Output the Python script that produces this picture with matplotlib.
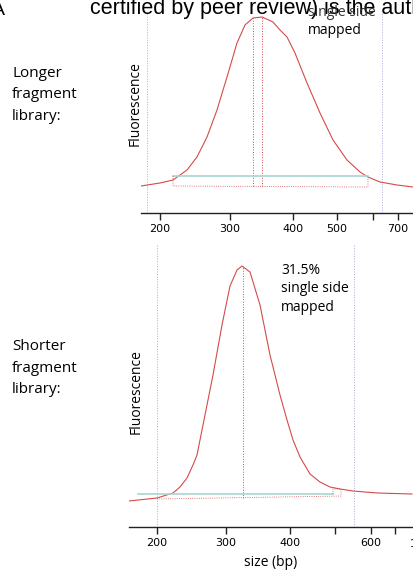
import matplotlib
matplotlib.use('Agg')
import matplotlib.pyplot as plt

# migration position (trace units) and fluorescence readings, longer library
long_pos = [141, 160, 173, 187, 197, 207, 217, 227, 237, 245, 253, 262, 273,
            280, 287, 295, 307, 320, 333, 347, 360, 368, 380, 397, 413]
long_fluor = [27, 30, 33, 43, 56, 76, 103, 136, 170, 188, 195, 196, 191,
              183, 176, 160, 130, 100, 73, 53, 41, 36, 31, 28, 26]

# shorter library
short_pos = [129, 157, 173, 180, 187, 193, 197, 203, 208, 213, 222, 230, 237,
             242, 250, 260, 270, 280, 287, 293, 300, 310, 320, 330, 340, 353,
             377, 412]
short_fluor = [26, 29, 34, 40, 49, 62, 72, 102, 127, 152, 202, 241, 257,
               261, 255, 222, 172, 132, 107, 87, 70, 53, 45, 40, 38, 36,
               34, 33]

# size ladder ticks (position -> bp label)
long_ticks = [160, 230, 293, 337, 373, 398]
long_tick_labels = ['200', '300', '400', '500', '', '700']
short_ticks = [157, 226, 290, 335, 371, 395]
short_tick_labels = ['200', '300', '400', '', '600', '']

# peak markers, smear region, lower/upper markers
long_peaks = [253, 262]
long_peak_top = [195, 196]
long_region = (173, 368)
long_region_level = 37
long_markers = [147, 382]

short_peaks = [243]
short_peak_top = [261]
short_region = (138, 333)
short_region_level = 33
short_markers = [157, 354]

RED = '#d64a4a'
CYAN = '#a9d6cf'
LAV = '#a9a9dd'
LABEL_FONT = ['Open Sans', 'DejaVu Sans']

W, H = 413, 576
fig = plt.figure(figsize=(W / 100, H / 100), dpi=100)


def px_axes(x0, y0, x1, y1):
    return fig.add_axes([x0 / W, 1 - y1 / H, (x1 - x0) / W, (y1 - y0) / H])


def style(ax, ticks, labels):
    for s in ['top', 'right', 'left']:
        ax.spines[s].set_visible(False)
    ax.spines['bottom'].set_color('#222222')
    ax.spines['bottom'].set_linewidth(1.0)
    ax.set_yticks([])
    ax.set_xticks(ticks)
    ax.set_xticklabels(labels, fontsize=8, family='DejaVu Sans')
    ax.tick_params(axis='x', length=5, width=1, pad=3, color='#222222')


# ---- longer fragment library ----
ax1 = px_axes(141, 8, 413, 213)
ax1.set_xlim(141, 413)
ax1.set_ylim(0, 205)
style(ax1, long_ticks, long_tick_labels)
for m in long_markers:
    ax1.plot([m, m], [0, 201], color=LAV, lw=0.7, ls=':')
ax1.plot(long_pos, long_fluor, color=RED, lw=0.8)
for p, t in zip(long_peaks, long_peak_top):
    ax1.plot([p, p], [27, t], color=RED, lw=0.7, ls=':')
ax1.plot(long_region, [long_region_level] * 2, color=CYAN, lw=1.2)
ax1.plot([long_region[0], long_region[0], long_region[1], long_region[1]],
         [long_region_level, 27, 26, long_region_level - 1],
         color=RED, lw=0.6, ls=':')

# ---- shorter fragment library ----
ax2 = px_axes(129, 245, 413, 527)
ax2.set_xlim(129, 413)
ax2.set_ylim(0, 282)
style(ax2, short_ticks, short_tick_labels)
for m in short_markers:
    ax2.plot([m, m], [0, 282], color=LAV, lw=0.7, ls=':')
ax2.plot(short_pos, short_fluor, color=RED, lw=0.8)
for p, t in zip(short_peaks, short_peak_top):
    ax2.plot([p, p], [29, t], color=RED, lw=0.7, ls=':')
ax2.plot(short_region, [short_region_level] * 2, color=CYAN, lw=1.2)
ax2.plot([157, 341, 341, 333, 333], [28, 31, 38, 38, 33],
         color=RED, lw=0.6, ls=':')
ax2.set_xlabel('size (bp)', fontsize=10, family=LABEL_FONT, labelpad=5)


def ftext(x, y, s, **kw):
    fig.text(x / W, 1 - y / H, s, **kw)


ftext(5, 15, 'A', ha='right', va='baseline', fontsize=14,
      family=['Liberation Sans'])
ftext(90, 14, 'certified by peer review) is the author/funder',
      ha='left', va='baseline', fontsize=15.5, family=['Liberation Sans'])
ftext(308, 12, 'single side', ha='left', va='center', fontsize=10,
      family=LABEL_FONT, color='#333333')
ftext(308, 30, 'mapped', ha='left', va='center', fontsize=10,
      family=LABEL_FONT)

ftext(12, 95, 'Longer\nfragment\nlibrary:', ha='left', va='center',
      fontsize=11, family=LABEL_FONT, linespacing=1.6)
ftext(12, 368, 'Shorter\nfragment\nlibrary:', ha='left', va='center',
      fontsize=11, family=LABEL_FONT, linespacing=1.6)

ftext(135, 104, 'Fluorescence', rotation=90, ha='center', va='center',
      fontsize=10, family=LABEL_FONT)
ftext(136, 392, 'Fluorescence', rotation=90, ha='center', va='center',
      fontsize=10, family=LABEL_FONT)

ftext(281, 289, '31.5%\nsingle side\nmapped', ha='left', va='center',
      fontsize=10, family=LABEL_FONT, linespacing=1.35)

ftext(410, 544, '1000', ha='left', va='center', fontsize=8,
      family='DejaVu Sans')

fig.savefig('out.png', dpi=100)
